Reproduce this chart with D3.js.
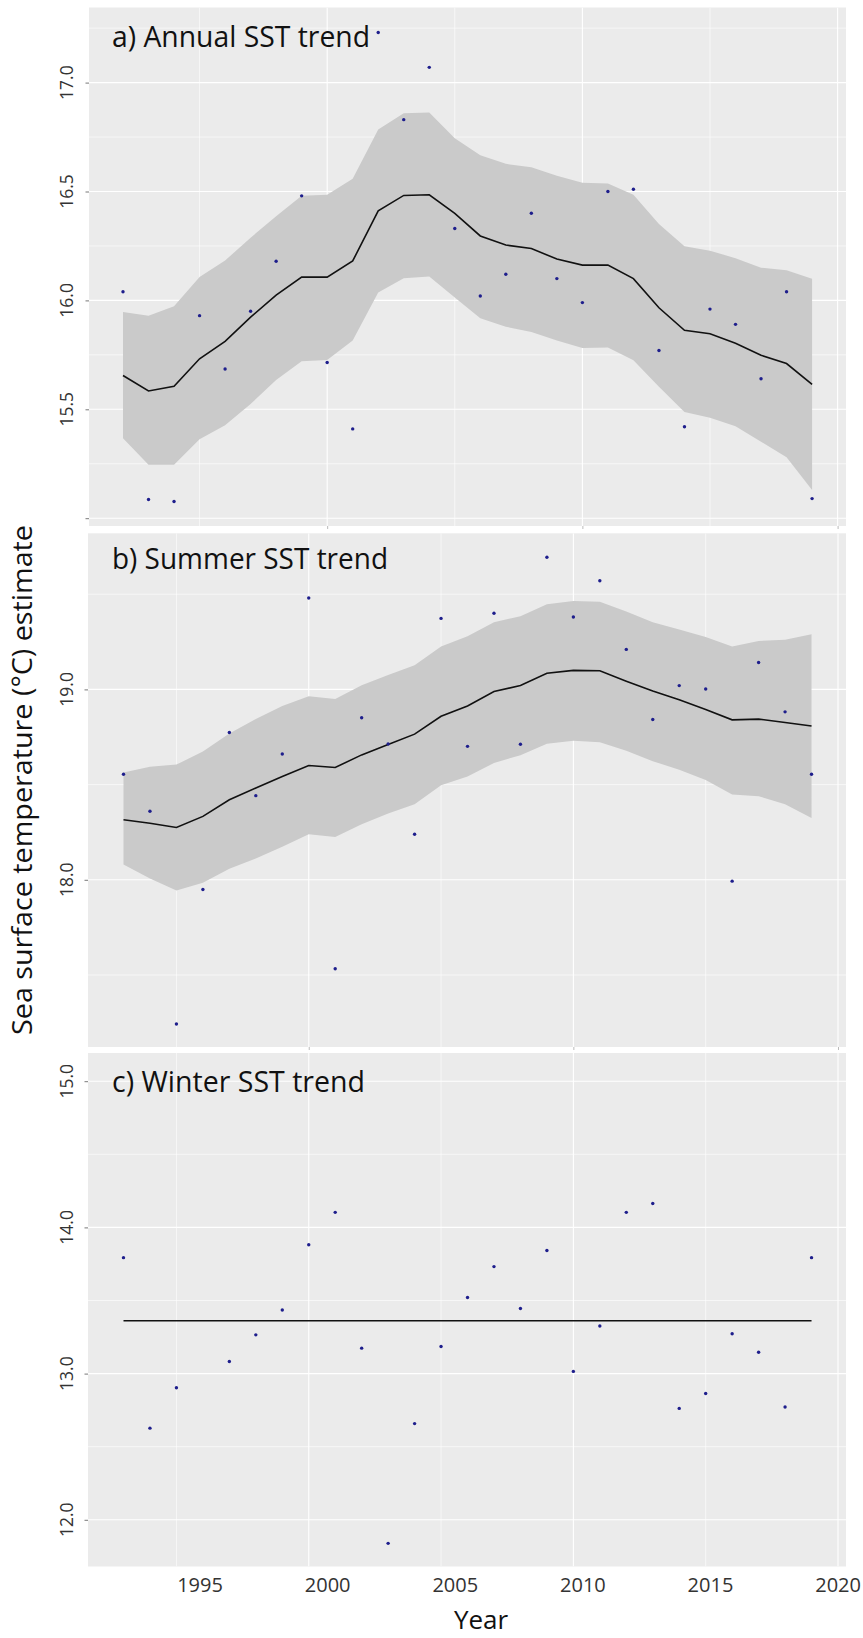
<!DOCTYPE html>
<html>
<head>
<meta charset="utf-8">
<script src="https://cdn.jsdelivr.net/npm/d3@7"></script>
<style>
  body { margin: 0; background: #ffffff; }
  svg { display: block; }
</style>
</head>
<body>
<svg id="chart" width="863" height="1638"></svg>
<script>
// ---------------- DATA ----------------
// a) Annual
const annualYears = [1992,1993,1994,1995,1996,1997,1998,1999,2000,2001,2002,2003,2004,2005,2006,2007,2008,2009,2010,2011,2012,2013,2014,2015,2016,2017,2018,2019];
const annualObs   = [16.04,15.086,15.077,15.93,15.685,15.95,16.18,16.48,15.715,15.41,17.23,16.83,17.07,16.33,16.02,16.12,16.40,16.10,15.99,16.50,16.51,15.77,15.42,15.96,15.89,15.64,16.04,15.09];
const annualFit   = [15.655,15.584,15.606,15.732,15.812,15.923,16.024,16.107,16.107,16.181,16.411,16.482,16.485,16.40,16.296,16.254,16.238,16.19,16.162,16.162,16.10,15.966,15.863,15.847,15.803,15.748,15.71,15.614];
const annualUpper = [15.947,15.93,15.973,16.107,16.183,16.288,16.386,16.48,16.485,16.559,16.785,16.859,16.863,16.745,16.666,16.627,16.611,16.572,16.54,16.537,16.485,16.351,16.249,16.228,16.194,16.15,16.139,16.099];
const annualLower = [15.367,15.245,15.245,15.362,15.427,15.524,15.635,15.721,15.726,15.816,16.036,16.102,16.11,16.013,15.918,15.879,15.855,15.816,15.781,15.784,15.725,15.603,15.488,15.461,15.422,15.351,15.28,15.13];
const annualYTicks = [15.0, 15.5, 16.0, 16.5, 17.0];
const annualYTickLabels = ["", "15.5", "16.0", "16.5", "17.0"];

// b) Summer
const summerYears = [1993,1994,1995,1996,1997,1998,1999,2000,2001,2002,2003,2004,2005,2006,2007,2008,2009,2010,2011,2012,2013,2014,2015,2016,2017,2018,2019];
const summerObs   = [18.554,18.36,17.243,17.949,18.774,18.442,18.661,19.48,17.533,18.851,18.713,18.239,19.373,18.701,19.40,18.712,19.694,19.38,19.571,19.21,18.842,19.02,19.002,17.993,19.141,18.882,18.554];
const summerFit   = [18.315,18.297,18.275,18.333,18.42,18.482,18.542,18.60,18.59,18.656,18.71,18.765,18.859,18.913,18.989,19.02,19.085,19.10,19.098,19.043,18.991,18.946,18.895,18.84,18.844,18.826,18.808];
const summerUpper = [18.563,18.594,18.605,18.674,18.768,18.844,18.913,18.964,18.949,19.022,19.076,19.127,19.225,19.279,19.353,19.384,19.447,19.464,19.46,19.409,19.353,19.315,19.275,19.225,19.254,19.261,19.29];
const summerLower = [18.08,18.007,17.944,17.985,18.058,18.112,18.174,18.239,18.225,18.292,18.348,18.397,18.496,18.542,18.614,18.654,18.714,18.73,18.723,18.678,18.623,18.578,18.524,18.448,18.439,18.397,18.324];
const summerYTicks = [18.0, 19.0];
const summerYTickLabels = ["18.0", "19.0"];

// c) Winter
const winterYears = [1993,1994,1995,1997,1998,1999,2000,2001,2002,2003,2004,2005,2006,2007,2008,2009,2010,2011,2012,2013,2014,2015,2016,2017,2018,2019];
const winterObs   = [13.793,12.627,12.903,13.083,13.265,13.435,13.881,14.103,13.174,11.839,12.658,13.185,13.521,13.732,13.445,13.842,13.015,13.326,14.103,14.163,12.762,12.864,13.273,13.146,12.772,13.793];
const winterFitYears = [1993, 2019];
const winterFit      = [13.362, 13.362];
const winterYTicks = [12.0, 13.0, 14.0, 15.0];
const winterYTickLabels = ["12.0", "13.0", "14.0", "15.0"];

// shared x
const xGridYears = [1995, 2000, 2005, 2010, 2015, 2020];
const xMajorYears = [2000, 2010, 2020];
const xTickLabels = ["1995", "2000", "2005", "2010", "2015", "2020"];

const panelTitles = ["a) Annual SST trend", "b) Summer SST trend", "c) Winter SST trend"];
const yAxisTitle = "Sea surface temperature (°C) estimate";
const xAxisTitle = "Year";

// ---------------- LAYOUT ----------------
const svg = d3.select("#chart");
svg.append("rect").attr("width", 863).attr("height", 1638).attr("fill", "#ffffff");

const FONT = "'Open Sans', 'DejaVu Sans', sans-serif";
const xA  = d3.scaleLinear().domain([1992, 2020]).range([123, 837.6]);
const xBC = d3.scaleLinear().domain([1993, 2020]).range([123.5, 838]);

function zipBand(years, fit, lower, upper) {
  return years.map((yr, i) => ({year: yr, fit: fit ? fit[i] : null, lo: lower ? lower[i] : null, hi: upper ? upper[i] : null}));
}

const panels = [
  { left: 89, right: 846, top: 7.5, bottom: 526, x: xA,
    y: d3.scaleLinear().domain([15, 17]).range([518.2, 82.6]),
    yTicks: annualYTicks, yLabels: annualYTickLabels,
    title: panelTitles[0], titleY: 46.5, titleW: 258,
    obsYears: annualYears, obs: annualObs,
    band: zipBand(annualYears, annualFit, annualLower, annualUpper), hasBand: true,
    fitLine: zipBand(annualYears, annualFit), bottomTicks: true },
  { left: 88, right: 846, top: 533.3, bottom: 1047, x: xBC,
    y: d3.scaleLinear().domain([18, 19]).range([879.8, 689.4]),
    yTicks: summerYTicks, yLabels: summerYTickLabels,
    title: panelTitles[1], titleY: 569, titleW: 276,
    obsYears: summerYears, obs: summerObs,
    band: zipBand(summerYears, summerFit, summerLower, summerUpper), hasBand: true,
    fitLine: zipBand(summerYears, summerFit), bottomTicks: true },
  { left: 88, right: 846, top: 1053, bottom: 1566.5, x: xBC,
    y: d3.scaleLinear().domain([12, 15]).range([1519.8, 1081.2]),
    yTicks: winterYTicks, yLabels: winterYTickLabels,
    title: panelTitles[2], titleY: 1091.5, titleW: 253,
    obsYears: winterYears, obs: winterObs,
    band: null, hasBand: false,
    fitLine: zipBand(winterFitYears, winterFit), bottomTicks: false }
];

panels.forEach((p, idx) => {
  const g = svg.append("g");
  const clipId = "clip" + idx;
  svg.append("clipPath").attr("id", clipId).append("rect")
    .attr("x", p.left).attr("y", p.top).attr("width", p.right - p.left).attr("height", p.bottom - p.top);

  // background
  g.append("rect").attr("x", p.left).attr("y", p.top)
    .attr("width", p.right - p.left).attr("height", p.bottom - p.top).attr("fill", "#ebebeb");

  const grid = g.append("g").attr("clip-path", `url(#${clipId})`);
  const step = p.yTicks[1] - p.yTicks[0];
  const minorY = [];
  for (let i = -1; i < p.yTicks.length; i++) minorY.push(p.yTicks[0] + (i + 0.5) * step);
  grid.selectAll(".hmin").data(minorY).join("line")
    .attr("x1", p.left).attr("x2", p.right)
    .attr("y1", d => p.y(d)).attr("y2", d => p.y(d))
    .attr("stroke", "#ffffff").attr("stroke-width", 0.6);
  grid.selectAll(".hmaj").data(p.yTicks).join("line")
    .attr("x1", p.left).attr("x2", p.right)
    .attr("y1", d => p.y(d)).attr("y2", d => p.y(d))
    .attr("stroke", "#ffffff").attr("stroke-width", 1.1);
  grid.selectAll(".vg").data(xGridYears).join("line")
    .attr("x1", d => p.x(d)).attr("x2", d => p.x(d))
    .attr("y1", p.top).attr("y2", p.bottom)
    .attr("stroke", "#ffffff").attr("stroke-width", d => xMajorYears.includes(d) ? 1.1 : 0.6);

  const plot = g.append("g").attr("clip-path", `url(#${clipId})`);
  if (p.hasBand) {
    const area = d3.area().x(d => p.x(d.year)).y0(d => p.y(d.lo)).y1(d => p.y(d.hi));
    plot.append("path").datum(p.band).attr("d", area).attr("fill", "#cacaca");
  }
  const line = d3.line().x(d => p.x(d.year)).y(d => p.y(d.fit));
  plot.append("path").datum(p.fitLine).attr("d", line)
    .attr("fill", "none").attr("stroke", "#111111").attr("stroke-width", 1.6);

  plot.selectAll("circle").data(p.obsYears.map((yr, i) => ({year: yr, v: p.obs[i]})))
    .join("circle")
    .attr("cx", d => p.x(d.year)).attr("cy", d => p.y(d.v))
    .attr("r", 1.7).attr("fill", "#1e1e8c");

  // y axis ticks
  const yAxis = d3.axisLeft(p.y).tickValues(p.yTicks).tickSize(3.5).tickFormat("");
  const ya = g.append("g").attr("transform", `translate(${p.left},0)`).call(yAxis);
  ya.select(".domain").remove();
  ya.selectAll("line").attr("stroke", "#555555").attr("stroke-width", 0.8);

  // rotated y tick labels
  g.selectAll(".ylab").data(p.yTicks.map((t, i) => ({t, label: p.yLabels[i]})))
    .join("text")
    .attr("transform", d => `translate(73,${p.y(d.t)}) rotate(-90)`)
    .attr("text-anchor", "middle")
    .attr("font-family", FONT).attr("font-size", 17.5).attr("fill", "#333333")
    .text(d => d.label);

  // x ticks in white strip below panel a/b
  if (p.bottomTicks) {
    const xAxis = d3.axisBottom(p.x).tickValues(xMajorYears).tickSize(3).tickFormat("");
    const xa = g.append("g").attr("transform", `translate(0,${p.bottom})`).call(xAxis);
    xa.select(".domain").remove();
    xa.selectAll("line").attr("stroke", "#aaaaaa").attr("stroke-width", 0.8);
  }

  // panel title
  g.append("text").attr("x", 112).attr("y", p.titleY)
    .attr("font-family", FONT).attr("font-size", 29).attr("fill", "#111111")
    .attr("textLength", p.titleW).attr("lengthAdjust", "spacingAndGlyphs")
    .text(p.title);
});

// bottom x axis labels (drawn with panel a's x scale, as in the original composite)
const xBottom = d3.axisBottom(xA).tickValues(xGridYears).tickSize(0)
  .tickFormat((d, i) => xTickLabels[i]);
const xb = svg.append("g").attr("transform", "translate(0,1566.5)").call(xBottom);
xb.select(".domain").remove();
xb.selectAll("text").attr("y", 25.5).attr("dy", 0)
  .attr("font-family", FONT).attr("font-size", 20).attr("fill", "#333333");

// axis titles
svg.append("text")
  .attr("transform", "translate(32,780) rotate(-90)")
  .attr("text-anchor", "middle")
  .attr("font-family", FONT).attr("font-size", 27).attr("fill", "#111111")
  .attr("textLength", 510).attr("lengthAdjust", "spacingAndGlyphs")
  .text(yAxisTitle);

svg.append("text")
  .attr("x", 481).attr("y", 1629)
  .attr("text-anchor", "middle")
  .attr("font-family", FONT).attr("font-size", 26).attr("fill", "#111111")
  .text(xAxisTitle);
</script>
</body>
</html>
